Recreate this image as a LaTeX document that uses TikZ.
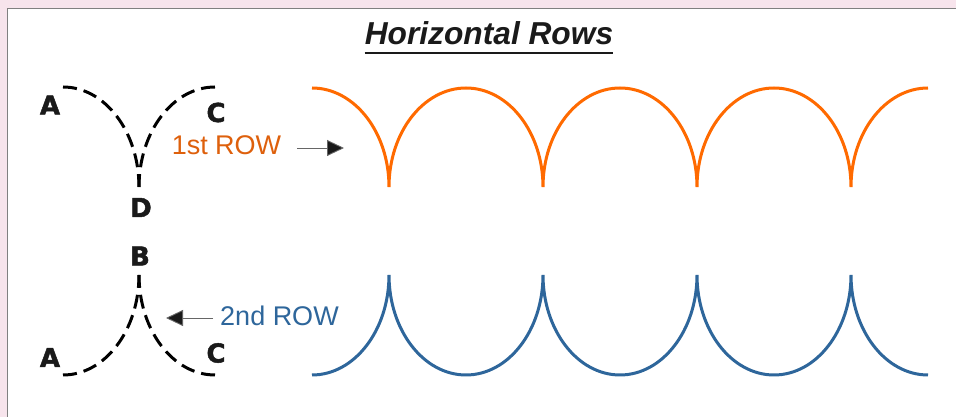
\documentclass[tikz,border=0pt]{standalone}
\usepackage{fontspec}
\setmainfont{Liberation Sans}
\newfontfamily\labfont[FakeBold=1.8]{DejaVu Sans Bold}
\usetikzlibrary{arrows.meta}
\definecolor{bgpink}{RGB}{247,228,236}
\definecolor{panelgray}{RGB}{128,128,128}
\definecolor{archorange}{RGB}{255,106,0}
\definecolor{textorange}{RGB}{222,96,12}
\definecolor{archblue}{RGB}{46,102,155}
\definecolor{labblack}{RGB}{26,26,26}
\begin{document}
\begin{tikzpicture}[x=1pt,y=1pt,
  lab/.style={font=\labfont\fontsize{26}{26}\selectfont, text=labblack, inner sep=0pt},
  rowtext/.style={font=\fontsize{27}{27}\selectfont, inner sep=0pt},
  orangearch/.style={draw=archorange, line width=3pt},
  bluearch/.style={draw=archblue, line width=3pt},
  dashcurve/.style={draw=black, line width=3pt, dash pattern=on 14pt off 7pt},
  pointer/.style={draw=gray!80!black, line width=0.9pt, -{Triangle[length=17pt,width=16pt,fill=labblack]}}
]
\useasboundingbox (0,0) rectangle (956,417);
\fill[bgpink] (0,0) rectangle (956,417);
\filldraw[fill=white, draw=panelgray, line width=1.6pt] (7.5,-10) rectangle (970,408.5);

% title
\node[font=\bfseries\itshape\fontsize{31.7}{32}\selectfont, text=labblack, inner sep=0pt, anchor=base] (title) at (489,372) {Horizontal Rows};
\draw[labblack, line width=2.4pt] ([yshift=-8pt]title.base west) -- ([yshift=-8pt]title.base east);

% labels
\node[lab] (A1) at (50,312) {A};
\node[lab] (C1) at (216,304.5) {C};
\node[lab] (D) at (141,209.5) {D};
\node[lab] (B) at (140,161) {B};
\node[lab] (A2) at (50,59.5) {A};
\node[lab] (C2) at (216,64) {C};

% row texts
\node[rowtext, text=textorange] (row1) at (226.5,272) {1st ROW};
\node[rowtext, text=archblue] (row2) at (279.5,101) {2nd ROW};

% pointers
\coordinate (p1s) at (297,269);
\coordinate (p1e) at (344,269);
\coordinate (p2s) at (213,99);
\coordinate (p2e) at (166,99);
\draw[pointer] (p1s) -- (p1e);
\draw[pointer] (p2s) -- (p2e);

% dashed curves
\draw[dashcurve] (63,330) arc[start angle=90,end angle=0,x radius=76,y radius=100];
\draw[dashcurve] (215,330) arc[start angle=90,end angle=180,x radius=76,y radius=100];
\draw[dashcurve] (63,42) arc[start angle=270,end angle=360,x radius=76,y radius=100];
\draw[dashcurve] (215,42) arc[start angle=270,end angle=180,x radius=76,y radius=100];

% orange arches (1st row)
\draw[orangearch] (312,329)
  arc[start angle=90,end angle=0,x radius=77,y radius=99]
  arc[start angle=180,end angle=0,x radius=77,y radius=99]
  arc[start angle=180,end angle=0,x radius=77,y radius=99]
  arc[start angle=180,end angle=0,x radius=77,y radius=99]
  arc[start angle=180,end angle=90,x radius=77,y radius=99];

% blue arches (2nd row)
\draw[bluearch] (312,42)
  arc[start angle=270,end angle=360,x radius=77,y radius=100]
  arc[start angle=180,end angle=360,x radius=77,y radius=100]
  arc[start angle=180,end angle=360,x radius=77,y radius=100]
  arc[start angle=180,end angle=360,x radius=77,y radius=100]
  arc[start angle=180,end angle=270,x radius=77,y radius=100];
\end{tikzpicture}
\end{document}
